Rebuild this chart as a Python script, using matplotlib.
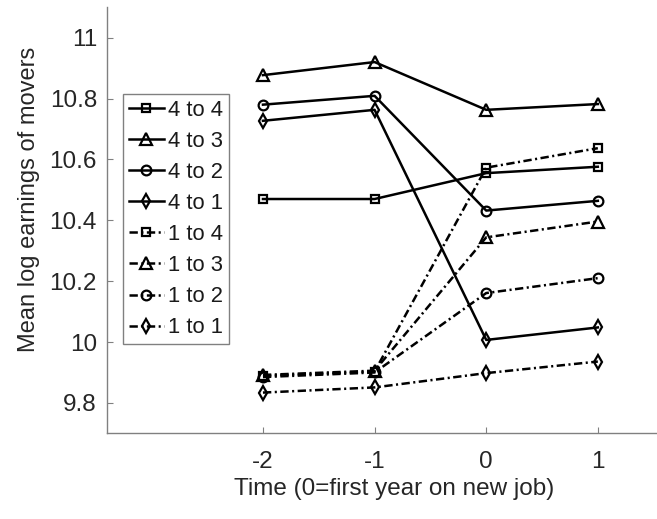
import matplotlib
matplotlib.use("Agg")
import matplotlib.pyplot as plt

plt.rcParams["font.family"] = ["Liberation Sans", "DejaVu Sans"]
plt.rcParams["lines.scale_dashes"] = False

# ── data ─────────────────────────────────────────────────────────────────────
years = [-2, -1, 0, 1]

e_4to4 = [10.470, 10.470, 10.555, 10.576]
e_4to3 = [10.877, 10.920, 10.763, 10.782]
e_4to2 = [10.780, 10.809, 10.432, 10.464]
e_4to1 = [10.727, 10.763, 10.007, 10.048]
e_1to4 = [9.889, 9.903, 10.573, 10.637]
e_1to3 = [9.892, 9.906, 10.344, 10.396]
e_1to2 = [9.885, 9.900, 10.161, 10.210]
e_1to1 = [9.834, 9.851, 9.898, 9.936]

labels = ["4 to 4", "4 to 3", "4 to 2", "4 to 1",
          "1 to 4", "1 to 3", "1 to 2", "1 to 1"]
series = [e_4to4, e_4to3, e_4to2, e_4to1, e_1to4, e_1to3, e_1to2, e_1to1]

markers = ["s", "^", "o", "d"] * 2
msizes = [5.5, 8, 7, 7] * 2
dashdot = (0, (6, 2.5, 1.5, 2.5))
styles = ["-"] * 4 + [dashdot] * 4

# ── plot ─────────────────────────────────────────────────────────────────────
fig = plt.figure(figsize=(6.57, 5.19), dpi=100)
ax = fig.add_axes([0.1624, 0.165, 1.0 - 0.1624, 0.986 - 0.165])

for vals, lab, m, ms, ls in zip(series, labels, markers, msizes, styles):
    ax.plot(years, vals, color="black", linestyle=ls, linewidth=1.8,
            marker=m, markersize=ms, markerfacecolor="none",
            markeredgewidth=1.6, label=lab)

ax.set_xlim(-3.4, 1.53)
ax.set_ylim(9.7, 11.1)
ax.set_xticks(years)
ax.set_xticklabels(["-2", "-1", "0", "1"])
ax.set_yticks([9.8, 10, 10.2, 10.4, 10.6, 10.8, 11])
ax.set_yticklabels(["9.8", "10", "10.2", "10.4", "10.6", "10.8", "11"])

for side in ["top", "right"]:
    ax.spines[side].set_visible(False)
for side in ["left", "bottom"]:
    ax.spines[side].set_color("#808080")
    ax.spines[side].set_linewidth(1.0)

ax.tick_params(direction="in", length=4, width=0.8, color="#808080",
               labelsize=17.5, labelcolor="#262626")
ax.tick_params(axis="x", pad=13)
ax.tick_params(axis="y", pad=7)

ax.set_xlabel("Time (0=first year on new job)", fontsize=17.5,
              color="#262626")
ax.xaxis.set_label_coords(0.522, -0.105)
ax.set_ylabel("Mean log earnings of movers", fontsize=17, color="#262626")
ax.yaxis.set_label_coords(-0.121, 0.55)

leg = ax.legend(loc="upper left", bbox_to_anchor=(0.03, 0.796),
                fontsize=15.8, handlelength=1.6, handletextpad=0.2,
                labelspacing=0.46, borderpad=0.25, borderaxespad=0.0,
                fancybox=False, framealpha=1.0)
leg.get_frame().set_edgecolor("#808080")
leg.get_frame().set_linewidth(1.0)
for t in leg.get_texts():
    t.set_color("#1a1a1a")

fig.savefig("out.png", dpi=100)
